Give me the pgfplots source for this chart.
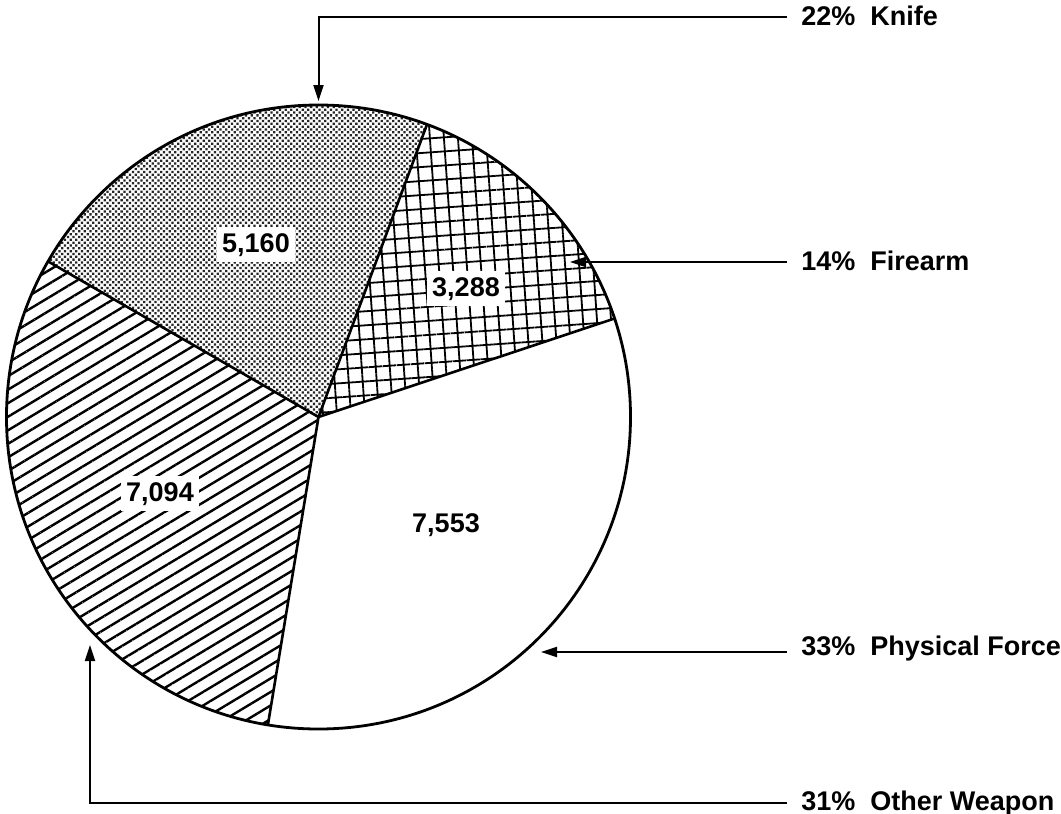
\documentclass[border=0pt]{standalone}
\usepackage{pgfplots}
\pgfplotsset{compat=1.18}
\usepackage{pgfplotstable}
\usetikzlibrary{patterns.meta,arrows.meta}
\usepackage{fontspec}
\setmainfont{Liberation Sans}
\pgfplotstableread{
name value
Firearm 3288
Knife 5160
Other 7094
Physical 7553
}\piedata
\pgfplotstablegetelem{0}{value}\of\piedata\let\vA\pgfplotsretval%
\pgfplotstablegetelem{1}{value}\of\piedata\let\vB\pgfplotsretval%
\pgfplotstablegetelem{2}{value}\of\piedata\let\vC\pgfplotsretval%
\pgfplotstablegetelem{3}{value}\of\piedata\let\vD\pgfplotsretval%
\pgfmathsetmacro{\tot}{\vA/1000+\vB/1000+\vC/1000+\vD/1000}%
\pgfmathsetmacro{\aA}{18.4}%
\pgfmathsetmacro{\aB}{\aA+360*(\vA/1000)/\tot}%
\pgfmathsetmacro{\aC}{\aB+360*(\vB/1000)/\tot}%
\pgfmathsetmacro{\aD}{\aC+360*(\vC/1000)/\tot}%
\pgfmathsetmacro{\aE}{\aD+360*(\vD/1000)/\tot}%
\tikzset{lab/.style={font=\fontsize{13.5}{16}\selectfont\bfseries}}
\begin{document}%
\begin{tikzpicture}
\begin{axis}[at={(0,0)},anchor=south west,width=530.5pt,height=407pt,scale only axis,
  xmin=0,xmax=1061,ymin=0,ymax=814,y dir=reverse,hide axis,clip=false]
% slices
\path[pattern={Hatch[angle=4,distance=7pt,line width=0.9pt]}] (axis cs:318.5,417) -- ++(\aA:156pt) arc[start angle=\aA,end angle=\aB,radius=156pt] -- cycle;
\path[pattern={Dots[angle=45,distance=2pt,radius=0.8pt]},pattern color=black!85] (axis cs:318.5,417) -- ++(\aB:156pt) arc[start angle=\aB,end angle=\aC,radius=156pt] -- cycle;
\path[pattern={Lines[angle=31,distance=5.8pt,line width=1.2pt]}] (axis cs:318.5,417) -- ++(\aC:156pt) arc[start angle=\aC,end angle=\aD,radius=156pt] -- cycle;
\path[fill=white] (axis cs:318.5,417) -- ++(\aD:156pt) arc[start angle=\aD,end angle=\aE,radius=156pt] -- cycle;
% outlines
\draw[line width=1.4pt] (axis cs:318.5,417) circle[radius=156pt];
\draw[line width=1.3pt] (axis cs:318.5,417) -- ++(\aA:156pt);
\draw[line width=1.3pt] (axis cs:318.5,417) -- ++(\aB:156pt);
\draw[line width=1.3pt] (axis cs:318.5,417) -- ++(\aC:156pt);
\draw[line width=1.3pt] (axis cs:318.5,417) -- ++(\aD:156pt);
% values
\node[lab,fill=white,inner xsep=2.5pt,inner ysep=3pt,anchor=base] at (axis cs:256,252) {5,160};
\node[lab,fill=white,inner xsep=2.5pt,inner ysep=3pt,anchor=base] at (axis cs:466,296) {3,288};
\node[lab,fill=white,inner xsep=2.5pt,inner ysep=3pt,anchor=base] at (axis cs:160,501) {7,094};
\node[lab,inner sep=0pt,anchor=base] at (axis cs:446,532) {7,553};
% arrows
\draw[line width=1pt,-{Triangle[length=8pt,width=5pt]}] (axis cs:787,17) -| (axis cs:318.5,101);
\draw[line width=1pt,-{Triangle[length=8pt,width=5pt]}] (axis cs:787,262) -- (axis cs:570,262);
\draw[line width=1pt,-{Triangle[length=8pt,width=5pt]}] (axis cs:787,652) -- (axis cs:541,652);
\draw[line width=1pt,-{Triangle[length=8pt,width=5pt]}] (axis cs:787,803) -| (axis cs:90,645);
% labels
\node[lab,inner sep=0pt,anchor=base west] at (axis cs:801,25) {22\%\ \ Knife};
\node[lab,inner sep=0pt,anchor=base west] at (axis cs:801,270) {14\%\ \ Firearm};
\node[lab,inner sep=0pt,anchor=base west] at (axis cs:801,655) {33\%\ \ Physical Force};
\node[lab,inner sep=0pt,anchor=base west] at (axis cs:801,810) {31\%\ \ Other Weapon};
\end{axis}
\pgfresetboundingbox
\path (0,0) rectangle (530.5pt,407pt);
\end{tikzpicture}%
\end{document}
